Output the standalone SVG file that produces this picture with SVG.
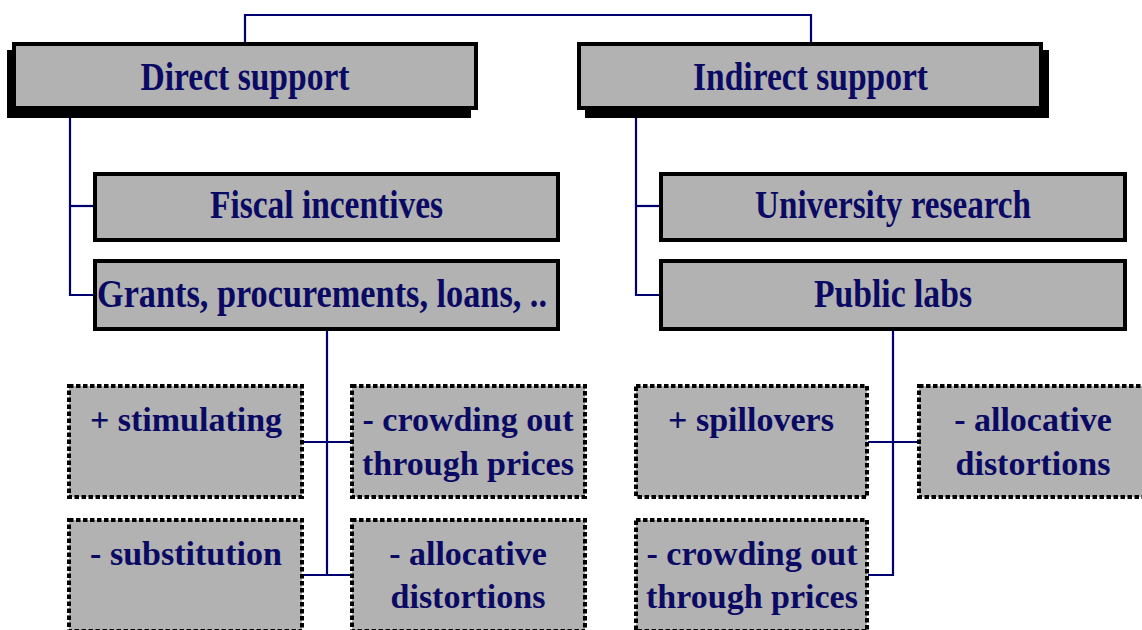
<svg xmlns="http://www.w3.org/2000/svg" width="1142" height="630" viewBox="0 0 1142 630">
  <style>
    .bg { fill: #ffffff; }
    .shadow { fill: #000000; }
    .box { fill: #b2b2b2; stroke: #000000; stroke-width: 4; }
    .dbox { fill: #b2b2b2; stroke: #000000; stroke-width: 4; stroke-dasharray: 4.5 2.5; }
    .wire { fill: none; stroke: #000070; stroke-width: 2.2; }
    .t { font-family: "Liberation Serif", "Times New Roman", serif; font-weight: bold; fill: #0a0a64; text-anchor: middle; }
    .big { font-size: 39px; }
    .small { font-size: 34px; }
  </style>
  <rect class="bg" x="0" y="0" width="1142" height="630"/>

  <!-- connectors -->
  <g id="connectors">
    <polyline class="wire" points="245,42 245,15 811,15 811,42"/>
    <polyline class="wire" points="70,110 70,295 93,295"/>
    <line class="wire" x1="70" y1="206" x2="93" y2="206"/>
    <polyline class="wire" points="636,110 636,295 659,295"/>
    <line class="wire" x1="636" y1="206" x2="659" y2="206"/>
    <line class="wire" x1="327" y1="331" x2="327" y2="575"/>
    <line class="wire" x1="303" y1="442" x2="351" y2="442"/>
    <line class="wire" x1="303" y1="575" x2="351" y2="575"/>
    <polyline class="wire" points="893,331 893,575 868,575"/>
    <line class="wire" x1="868" y1="442" x2="918" y2="442"/>
  </g>

  <g id="direct-support">
    <rect class="shadow" x="7" y="50" width="464" height="68"/>
    <rect class="box" x="14" y="44" width="462" height="64"/>
    <text class="t big" x="245" y="90" textLength="209" lengthAdjust="spacingAndGlyphs">Direct support</text>
  </g>

  <g id="indirect-support">
    <rect class="shadow" x="585" y="50" width="464" height="68"/>
    <rect class="box" x="579" y="44" width="462" height="64"/>
    <text class="t big" x="810.5" y="90" textLength="235" lengthAdjust="spacingAndGlyphs">Indirect support</text>
  </g>

  <g id="fiscal-incentives">
    <rect class="box" x="95" y="174" width="463" height="66"/>
    <text class="t big" x="326.5" y="218" textLength="233" lengthAdjust="spacingAndGlyphs">Fiscal incentives</text>
  </g>

  <g id="grants">
    <rect class="box" x="95" y="261" width="463" height="68"/>
    <text class="t big" x="322" y="307" textLength="450" lengthAdjust="spacingAndGlyphs">Grants, procurements, loans, ..</text>
  </g>

  <g id="university-research">
    <rect class="box" x="661" y="174" width="464" height="66"/>
    <text class="t big" x="893" y="218" textLength="276" lengthAdjust="spacingAndGlyphs">University research</text>
  </g>

  <g id="public-labs">
    <rect class="box" x="661" y="261" width="464" height="68"/>
    <text class="t big" x="893" y="307" textLength="158" lengthAdjust="spacingAndGlyphs">Public labs</text>
  </g>

  <g id="stimulating">
    <rect class="dbox" x="69" y="386" width="233" height="111"/>
    <text class="t small" x="186" y="431">+ stimulating</text>
  </g>

  <g id="crowding-out-direct">
    <rect class="dbox" x="352" y="386" width="233" height="111"/>
    <text class="t small" x="468" y="431">- crowding out</text>
    <text class="t small" x="468" y="475">through prices</text>
  </g>

  <g id="substitution">
    <rect class="dbox" x="69" y="520" width="233" height="111"/>
    <text class="t small" x="186" y="565">- substitution</text>
  </g>

  <g id="allocative-direct">
    <rect class="dbox" x="352" y="520" width="233" height="111"/>
    <text class="t small" x="468" y="565">- allocative</text>
    <text class="t small" x="468" y="608">distortions</text>
  </g>

  <g id="spillovers">
    <rect class="dbox" x="636" y="386" width="231" height="111"/>
    <text class="t small" x="751" y="431">+ spillovers</text>
  </g>

  <g id="allocative-indirect">
    <rect class="dbox" x="919" y="386" width="240" height="111"/>
    <text class="t small" x="1033" y="431">- allocative</text>
    <text class="t small" x="1033" y="475">distortions</text>
  </g>

  <g id="crowding-out-indirect">
    <rect class="dbox" x="636" y="520" width="231" height="111"/>
    <text class="t small" x="752" y="565">- crowding out</text>
    <text class="t small" x="752" y="608">through prices</text>
  </g>
</svg>
